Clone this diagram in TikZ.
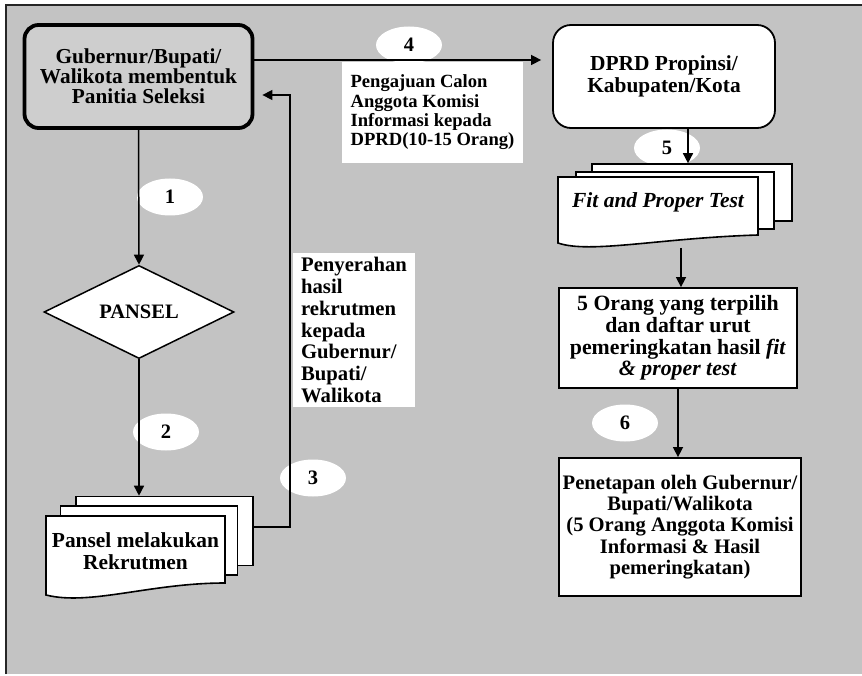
\documentclass[tikz,border=0pt]{standalone}
\usepackage{fontspec}
\setmainfont{Liberation Serif}
\usetikzlibrary{positioning, shapes.geometric, arrows.meta}

\definecolor{panelGray}{RGB}{195,195,195}
\definecolor{boxGray}{RGB}{206,206,206}

\tikzset{
  txt/.style={font=\bfseries\fontsize{21.4}{21.7}\selectfont, align=center},
  numoval/.style={ellipse, fill=white, minimum width=66pt, minimum height=37pt, inner sep=0pt, txt},
  sheet/.style={draw, line width=1.6pt, fill=white, minimum width=177pt, minimum height=69pt, inner sep=0pt},
  procbox/.style={draw, line width=1.8pt, fill=white, inner sep=0pt, txt},
  notebox/.style={fill=white, inner xsep=7pt, inner ysep=0pt, align=left},
  arr/.style={line width=1.5pt, -{Triangle[length=10pt,width=10pt]}},
}

\begin{document}
\begin{tikzpicture}[x=1pt,y=-1pt]
\path[use as bounding box] (0,0) rectangle (862,676);
\fill[panelGray] (6,5) rectangle (862,674);
\draw[line width=1.8pt, draw=black!85] (6,674) -- (6,5) -- (862,5);

% step numbers
\node[numoval, font=\bfseries\fontsize{20.5}{21}\selectfont] (n1) at (170,197) {1};
\node[numoval, font=\bfseries\fontsize{20.5}{21}\selectfont] (n2) at (166,432) {2};
\node[numoval, font=\bfseries\fontsize{20.5}{21}\selectfont] (n3) at (313,478) {3};
\node[numoval, font=\bfseries\fontsize{20.5}{21}\selectfont] (n4) at (409,45) {4};
\node[numoval, font=\bfseries\fontsize{20.5}{21}\selectfont] (n5) at (667,148) {5};
\node[numoval, font=\bfseries\fontsize{20.5}{21}\selectfont] (n6) at (625,423) {6};

% left column
\node[txt, draw, line width=3.8pt, fill=boxGray, rounded corners=14pt, minimum width=228pt, minimum height=103pt, font=\bfseries\fontsize{21.3}{20.2}\selectfont] (gub) at (138.5,76.5) {Gubernur/Bupati/\\Walikota membentuk\\Panitia Seleksi};

\node[txt, diamond, draw, line width=1.5pt, fill=white, minimum width=190pt, minimum height=87pt, inner sep=0pt, font=\bfseries\fontsize{20.5}{21}\selectfont] (pansel) at (139,312) {PANSEL};

\node[sheet] (rekrut_c) at (164.5,531) {};
\node[sheet] (rekrut_b) at (149,540.5) {};
\path[draw, line width=1.6pt, fill=white] (46,516) -- (225,516) -- (225,583) .. controls (150,583) and (90,606) .. (46,595) -- cycle;
\node[txt] (rekrut) at (135.5,551) {Pansel melakukan\\Rekrutmen};

% notes
\node[txt, notebox, minimum width=181pt, minimum height=101pt, font=\bfseries\fontsize{18.6}{19.3}\selectfont] (lbl4) at (432.5,112.5) {Pengajuan Calon\\Anggota Komisi\\Informasi kepada\\DPRD(10-15 Orang)};
\node[txt, notebox, minimum width=122pt, minimum height=154pt, font=\bfseries\fontsize{20.7}{21.7}\selectfont] (lbl3) at (354,330) {Penyerahan\\hasil\\rekrutmen\\kepada\\Gubernur/\\Bupati/\\Walikota};

% right column
\node[procbox, rounded corners=18pt, minimum width=222pt, minimum height=103pt] (dprd) at (664,76.5) {DPRD Propinsi/\\Kabupaten/Kota};

\node[sheet, minimum width=200pt, minimum height=57pt] (fpt_c) at (692,192.5) {};
\node[sheet, minimum width=198pt, minimum height=57pt] (fpt_b) at (675,200.5) {};
\path[draw, line width=1.6pt, fill=white] (558,177) -- (758,177) -- (758,235) .. controls (660,238) and (590,254) .. (558,243) -- cycle;
\node[txt, font=\bfseries\itshape\fontsize{21.5}{21}\selectfont] (fpt) at (658,202) {Fit and Proper Test};
\coordinate (fpt_end) at (681,248);

\node[procbox, minimum width=238pt, minimum height=100pt, font=\bfseries\fontsize{21.8}{21.7}\selectfont] (orang5) at (678,338) {5 Orang yang terpilih\\dan daftar urut\\pemeringkatan hasil \textit{fit}\\\textit{\& proper test}};

\node[procbox, minimum width=242pt, minimum height=138pt, font=\bfseries\fontsize{20.6}{21.2}\selectfont] (penet) at (680,527) {Penetapan oleh Gubernur/\\Bupati/Walikota\\(5 Orang Anggota Komisi\\Informasi \& Hasil\\pemeringkatan)};

% connectors
\draw[arr] (gub.south) -- (pansel.north);
\draw[arr] (pansel.south) -- (pansel.south |- rekrut_c.north);
\draw[arr, shorten >=8pt] ([yshift=4pt]rekrut_c.east) -- ++(36,0) |- ([yshift=-18.5pt]gub.east);
\draw[arr, shorten >=11pt] ([yshift=16.5pt]gub.east) -- ([yshift=16.5pt]gub.east -| dprd.west);
\draw[arr] ([xshift=-4pt]fpt_c.north |- dprd.south) -- ([xshift=-4pt]fpt_c.north);
\draw[arr] (fpt_end) -- (fpt_end |- orang5.north);
\draw[arr] (orang5.south) -- (orang5.south |- penet.north);
\end{tikzpicture}
\end{document}
